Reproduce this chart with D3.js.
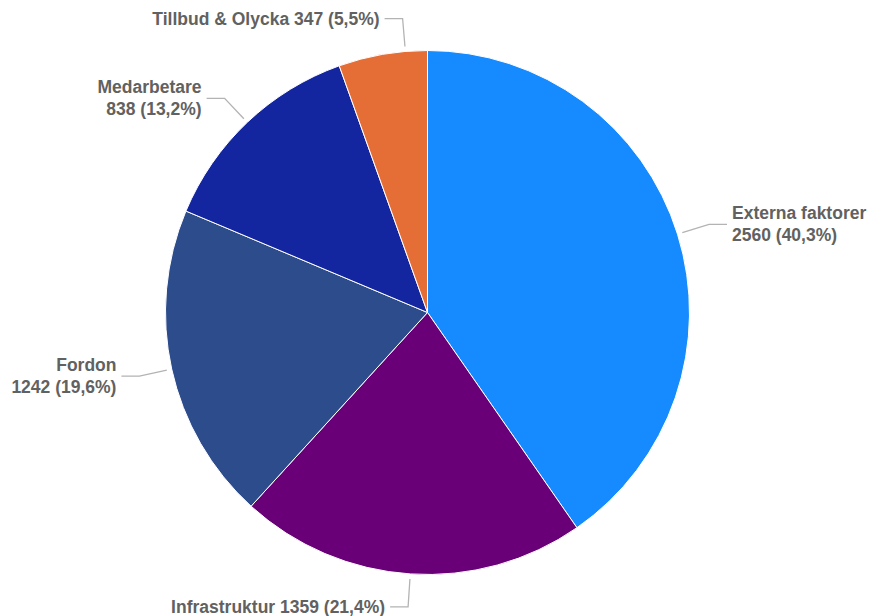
<!DOCTYPE html>
<html>
<head>
<meta charset="utf-8">
<script src="https://cdn.jsdelivr.net/npm/d3@7"></script>
<style>
  body { margin: 0; background: #fff; }
  svg { display: block; }
  .lbl { font-family: "Liberation Sans", Arial, sans-serif; font-weight: bold; font-size: 17.5px; fill: #616161; }
</style>
</head>
<body>
<div id="chart"></div>
<script>
const categories = ["Externa faktorer", "Infrastruktur", "Fordon", "Medarbetare", "Tillbud & Olycka"];
const values = [2560, 1359, 1242, 838, 347];
const percents = ["40,3%", "21,4%", "19,6%", "13,2%", "5,5%"];
const colors = ["#168bff", "#690078", "#2d4c8b", "#13259f", "#e56d36"];

const width = 873, height = 616;
const cx = 427.5, cy = 312.5, r = 262;
// label leader tweaks (the top label is nudged toward the middle)
const leaderShift = { "Tillbud & Olycka": 5.0 * Math.PI / 180 };

const svg = d3.select("#chart").append("svg")
    .attr("width", width)
    .attr("height", height);

const data = categories.map((c, i) => ({ name: c, value: values[i], pct: percents[i], color: colors[i] }));

const pie = d3.pie().sort(null).value(d => d.value);
const arc = d3.arc().innerRadius(0).outerRadius(r);
const arcs = pie(data);

const g = svg.append("g").attr("transform", "translate(" + cx + "," + cy + ")");

g.selectAll("path.slice")
  .data(arcs)
  .enter().append("path")
    .attr("class", "slice")
    .attr("d", arc)
    .attr("fill", d => d.data.color)
    .attr("stroke", "#fff")
    .attr("stroke-width", 1);

const labels = g.selectAll("g.label")
  .data(arcs)
  .enter().append("g")
    .attr("class", "label");

labels.each(function(d) {
  const sel = d3.select(this);
  const a = (d.startAngle + d.endAngle) / 2 + (leaderShift[d.data.name] || 0);
  const sx = Math.sin(a), sy = -Math.cos(a);
  const p0 = [sx * (r + 5), sy * (r + 5)];
  const p1 = [sx * (r + 33), sy * (r + 33)];
  const dir = sx >= 0 ? 1 : -1;
  const p2 = [p1[0] + dir * 18, p1[1]];

  sel.append("polyline")
    .attr("points", [p0, p1, p2].map(p => p.join(",")).join(" "))
    .attr("fill", "none")
    .attr("stroke", "#b3b3b3")
    .attr("stroke-width", 1.3);

  const oneLine = Math.abs(Math.cos(a)) > 0.95;
  const text = sel.append("text")
    .attr("class", "lbl")
    .attr("x", p2[0] + dir * 5)
    .attr("text-anchor", dir > 0 ? "start" : "end");

  const line2 = d.data.value + " (" + d.data.pct + ")";
  if (oneLine) {
    text.attr("y", p1[1] + 6).text(d.data.name + " " + line2);
  } else {
    text.append("tspan").attr("x", p2[0] + dir * 5).attr("y", p1[1] - 5).text(d.data.name);
    text.append("tspan").attr("x", p2[0] + dir * 5).attr("y", p1[1] + 17).text(line2);
  }
});
</script>
</body>
</html>
